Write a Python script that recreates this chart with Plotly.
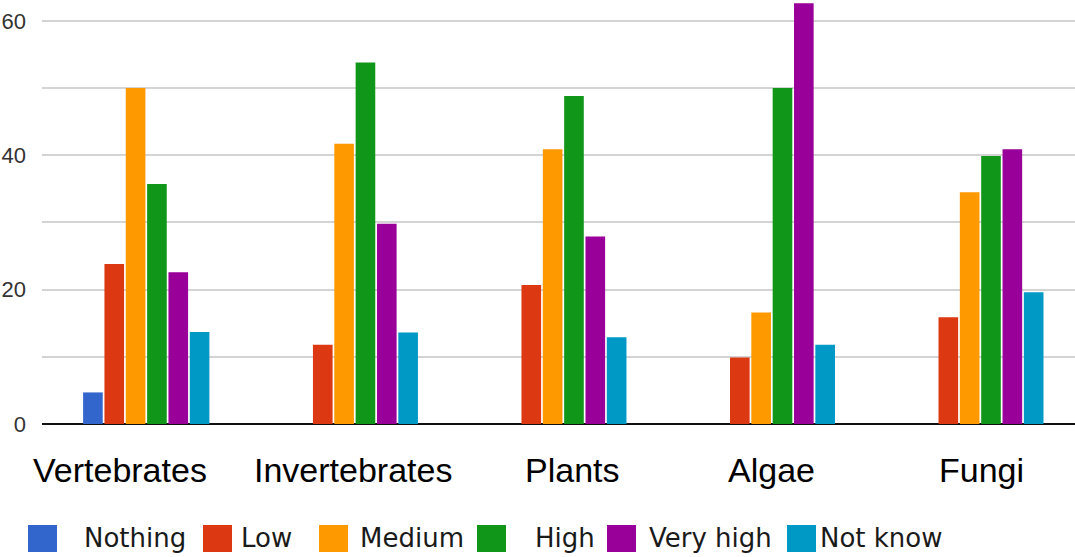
import plotly.graph_objects as go

categories = ["Vertebrates", "Invertebrates", "Plants", "Algae", "Fungi"]
series_names = ["Nothing", "Low", "Medium", "High", "Very high", "Not know"]
nothing = [4.7, 0, 0, 0, 0]
low = [23.8, 11.8, 20.7, 9.9, 15.9]
medium = [50.0, 41.7, 40.9, 16.6, 34.5]
high = [35.7, 53.8, 48.8, 50.0, 39.9]
very_high = [22.6, 29.8, 27.9, 62.6, 40.9]
not_know = [13.7, 13.6, 12.9, 11.8, 19.6]
y_tick_vals = [0, 10, 20, 30, 40, 50, 60]
y_tick_text = ["0", "", "20", "", "40", "", "60"]

colors = ["#3366CC", "#DC3912", "#FF9900", "#109618", "#990099", "#0099C6"]
values = [nothing, low, medium, high, very_high, not_know]

W, H = 1075, 557
ML, MR, MT, MB = 42, 0, 0, 133
PW, PH = W - ML - MR, H - MT - MB

fig = go.Figure()
for name, vals, col in zip(series_names, values, colors):
    fig.add_trace(go.Bar(x=categories, y=vals, name=name,
                         marker=dict(color=col, line=dict(width=0)),
                         showlegend=False))

def px_x(px):
    return (px - ML) / PW

def px_y(py):
    return (MT + PH - py) / PH

# category labels (annotations, slight offsets as in reference)
label_shift = [-26, -2, 9, 0, 1]
annotations = []
for cat, sh in zip(categories, label_shift):
    annotations.append(dict(x=cat, xref="x", y=px_y(470), yref="paper",
                            text=cat, showarrow=False, xanchor="center",
                            yanchor="middle", xshift=sh,
                            font=dict(family="Liberation Sans, Arial", size=34, color="#000000")))

# custom legend with large swatches
sw_left = [28, 203, 319, 477, 607, 787]
txt_left = [82, 239, 358, 533, 647, 818]
shapes = []
for name, col, sx, tx in zip(series_names, colors, sw_left, txt_left):
    shapes.append(dict(type="rect", xref="paper", yref="paper",
                       x0=px_x(sx), x1=px_x(sx + 29), y0=px_y(552), y1=px_y(525),
                       fillcolor=col, line=dict(width=0)))
    annotations.append(dict(x=px_x(tx), xref="paper", y=px_y(538), yref="paper",
                            text=name, showarrow=False, xanchor="left", yanchor="middle",
                            font=dict(family="DejaVu Sans", size=26, color="#1a1a1a")))

fig.update_layout(
    width=W, height=H,
    margin=dict(l=ML, r=MR, t=MT, b=MB),
    paper_bgcolor="white", plot_bgcolor="white",
    barmode="group", bargap=0.386, bargroupgap=0.08,
    showlegend=False,
    shapes=shapes,
    annotations=annotations,
    xaxis=dict(range=[-0.5, 4.454], showticklabels=False, showgrid=False,
               zeroline=False, showline=False, ticks=""),
    yaxis=dict(range=[0, 63.1], tickvals=y_tick_vals, ticktext=y_tick_text,
               showgrid=True, gridcolor="#d4d4d4", gridwidth=1.5,
               zeroline=True, zerolinecolor="#111111", zerolinewidth=2,
               ticklabelstandoff=15,
               tickfont=dict(family="Liberation Sans Narrow, Liberation Sans", size=22, color="#333333")),
)

fig.write_html("out.html",
               config={"displayModeBar": False},
               post_script="document.body.style.margin='0';document.body.style.overflow='hidden';")
